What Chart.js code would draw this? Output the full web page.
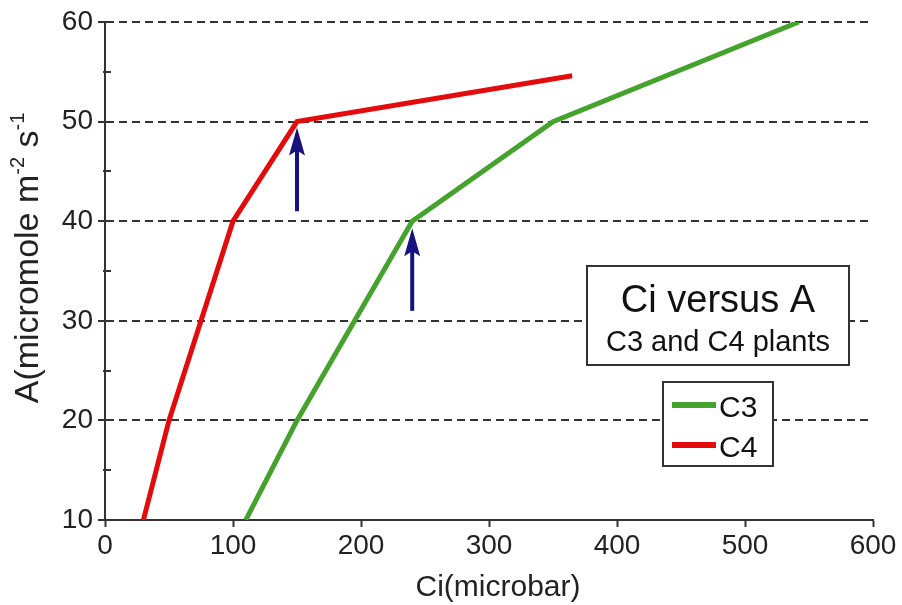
<!DOCTYPE html>
<html>
<head>
<meta charset="utf-8">
<script src="https://cdn.jsdelivr.net/npm/chart.js@4.4.1/dist/chart.umd.min.js"></script>
<style>
  html, body { margin: 0; padding: 0; background: #fff; }
  #wrap { width: 902px; height: 605px; }
</style>
</head>
<body>
<div id="wrap"><canvas id="grafico" width="902" height="605"></canvas></div>
<script>
// DADOS DO GRAFICO
const c3Ci = [110, 150, 195, 240, 350, 542];
const c3A  = [10, 20, 30, 40, 50, 60];
const c4Ci = [30, 50, 75, 100, 150, 365];
const c4A  = [10, 20, 30, 40, 50, 54.6];

// SETAS: posicao em Ci, inicio e ponta em A
const setaCi   = [150, 240];
const setaDe   = [41, 31];
const setaAte  = [49.4, 39.3];

const seriesNomes = ['C3', 'C4'];
const tituloCaixa = 'Ci versus A';
const subtituloCaixa = 'C3 and C4 plants';

const FONTE = '"Liberation Sans", Arial, Helvetica, sans-serif';
const VERDE = '#45a22c';
const VERMELHO = '#e30b0b';
const AZUL = '#16137f';
const CINZA = '#333333';

function pontos(xs, ys) {
    return xs.map((x, i) => ({ x: x, y: ys[i] }));
}

// PLUGIN: TICKS DO EIXO Y, TITULOS DOS EIXOS, SETAS E CAIXAS
const extras = {
    id: 'extras',
    afterDatasetsDraw(chart) {
        const { ctx, scales: { x, y } } = chart;
        ctx.save();
        // setas
        ctx.fillStyle = AZUL;
        ctx.strokeStyle = AZUL;
        setaCi.forEach((ci, i) => {
            const px = x.getPixelForValue(ci);
            const y0 = y.getPixelForValue(setaDe[i]);
            const y1 = y.getPixelForValue(setaAte[i]);
            ctx.lineWidth = 4;
            ctx.beginPath();
            ctx.moveTo(px, y0);
            ctx.lineTo(px, y1 + 20);
            ctx.stroke();
            ctx.beginPath();
            ctx.moveTo(px, y1);
            ctx.lineTo(px + 8, y1 + 28);
            ctx.lineTo(px, y1 + 23);
            ctx.lineTo(px - 8, y1 + 28);
            ctx.closePath();
            ctx.fill();
        });
        ctx.restore();
    },
    afterDraw(chart) {
        const { ctx, scales: { x, y } } = chart;
        ctx.save();
        // ticks do eixo y (maiores cruzando o eixo, menores internos)
        ctx.strokeStyle = CINZA;
        ctx.lineWidth = 2;
        const ex = x.left;
        for (let v = 10; v <= 60; v += 5) {
            const py = Math.round(y.getPixelForValue(v));
            ctx.beginPath();
            if (v % 10 === 0) {
                ctx.moveTo(ex - 7, py);
                ctx.lineTo(ex + 7, py);
            } else {
                ctx.moveTo(ex - 2, py);
                ctx.lineTo(ex + 6, py);
            }
            ctx.stroke();
        }

        // titulo do eixo x
        ctx.fillStyle = '#222';
        ctx.font = '30px ' + FONTE;
        ctx.textAlign = 'center';
        ctx.textBaseline = 'alphabetic';
        ctx.fillText('Ci(microbar)', 498, 596);

        // titulo do eixo y com expoentes
        const partes = [
            { t: 'A(micromole m', f: 34, sobe: 0 },
            { t: '-2', f: 20, sobe: 14 },
            { t: ' s', f: 34, sobe: 0 },
            { t: '-1', f: 20, sobe: 14 }
        ];
        let total = 0;
        partes.forEach(p => { ctx.font = p.f + 'px ' + FONTE; p.w = ctx.measureText(p.t).width; total += p.w; });
        ctx.translate(38, 258);
        ctx.rotate(-Math.PI / 2);
        ctx.textAlign = 'left';
        let cx = -total / 2;
        partes.forEach(p => {
            ctx.font = p.f + 'px ' + FONTE;
            ctx.fillText(p.t, cx, -p.sobe);
            cx += p.w;
        });
        ctx.setTransform(1, 0, 0, 1, 0, 0);

        // caixa do titulo
        ctx.fillStyle = '#fff';
        ctx.strokeStyle = CINZA;
        ctx.lineWidth = 2;
        ctx.fillRect(587, 266, 262, 99);
        ctx.strokeRect(587, 266, 262, 99);
        ctx.fillStyle = '#111';
        ctx.textAlign = 'center';
        ctx.font = '38px ' + FONTE;
        ctx.fillText(tituloCaixa, 718, 312);
        ctx.font = '29px ' + FONTE;
        ctx.fillText(subtituloCaixa, 718, 351);

        // caixa da legenda
        ctx.fillStyle = '#fff';
        ctx.fillRect(663, 382, 110, 84);
        ctx.strokeRect(663, 382, 110, 84);
        const cores = chart.data.datasets.map(d => d.borderColor);
        chart.data.datasets.forEach((d, i) => {
            const ly = 405 + i * 40;
            ctx.strokeStyle = cores[i];
            ctx.lineWidth = 6;
            ctx.beginPath();
            ctx.moveTo(672, ly);
            ctx.lineTo(716, ly);
            ctx.stroke();
            ctx.fillStyle = '#111';
            ctx.textAlign = 'left';
            ctx.font = '30px ' + FONTE;
            ctx.fillText(d.label, 719, ly + 12);
        });
        ctx.restore();
    }
};

const ctx = document.getElementById('grafico');

const grafico = new Chart(ctx, {
    type: 'line',
    data: {
        datasets: [
            {
                label: seriesNomes[0],
                data: pontos(c3Ci, c3A),
                borderColor: VERDE,
                borderWidth: 5,
                pointRadius: 0,
                tension: 0,
                fill: false
            },
            {
                label: seriesNomes[1],
                data: pontos(c4Ci, c4A),
                borderColor: VERMELHO,
                borderWidth: 5,
                pointRadius: 0,
                tension: 0,
                fill: false
            }
        ]
    },
    options: {
        responsive: false,
        animation: false,
        events: [],
        layout: { padding: { top: 22, right: 29, left: 0, bottom: 0 } },
        plugins: {
            legend: { display: false },
            tooltip: { enabled: false }
        },
        scales: {
            x: {
                type: 'linear',
                min: 0,
                max: 600,
                afterFit: (s) => { s.height = 85; s.paddingLeft = 0; s.paddingRight = 0; },
                ticks: {
                    stepSize: 100,
                    padding: 2,
                    color: '#222',
                    font: { family: FONTE, size: 28 }
                },
                grid: {
                    drawOnChartArea: false,
                    drawTicks: true,
                    tickLength: 7,
                    tickColor: CINZA,
                    tickWidth: 2
                },
                border: { color: CINZA, width: 2 }
            },
            y: {
                type: 'linear',
                min: 10,
                max: 60,
                afterFit: (s) => { s.width = 105; s.paddingTop = 0; s.paddingBottom = 0; },
                ticks: {
                    stepSize: 10,
                    padding: 12,
                    color: '#222',
                    font: { family: FONTE, size: 28 }
                },
                grid: {
                    color: (c) => (c.tick && c.tick.value === 10 ? 'rgba(0,0,0,0)' : CINZA),
                    lineWidth: 2,
                    drawTicks: false
                },
                border: { color: CINZA, width: 2, dash: [8, 5] }
            }
        }
    },
    plugins: [extras]
});
</script>
</body>
</html>
